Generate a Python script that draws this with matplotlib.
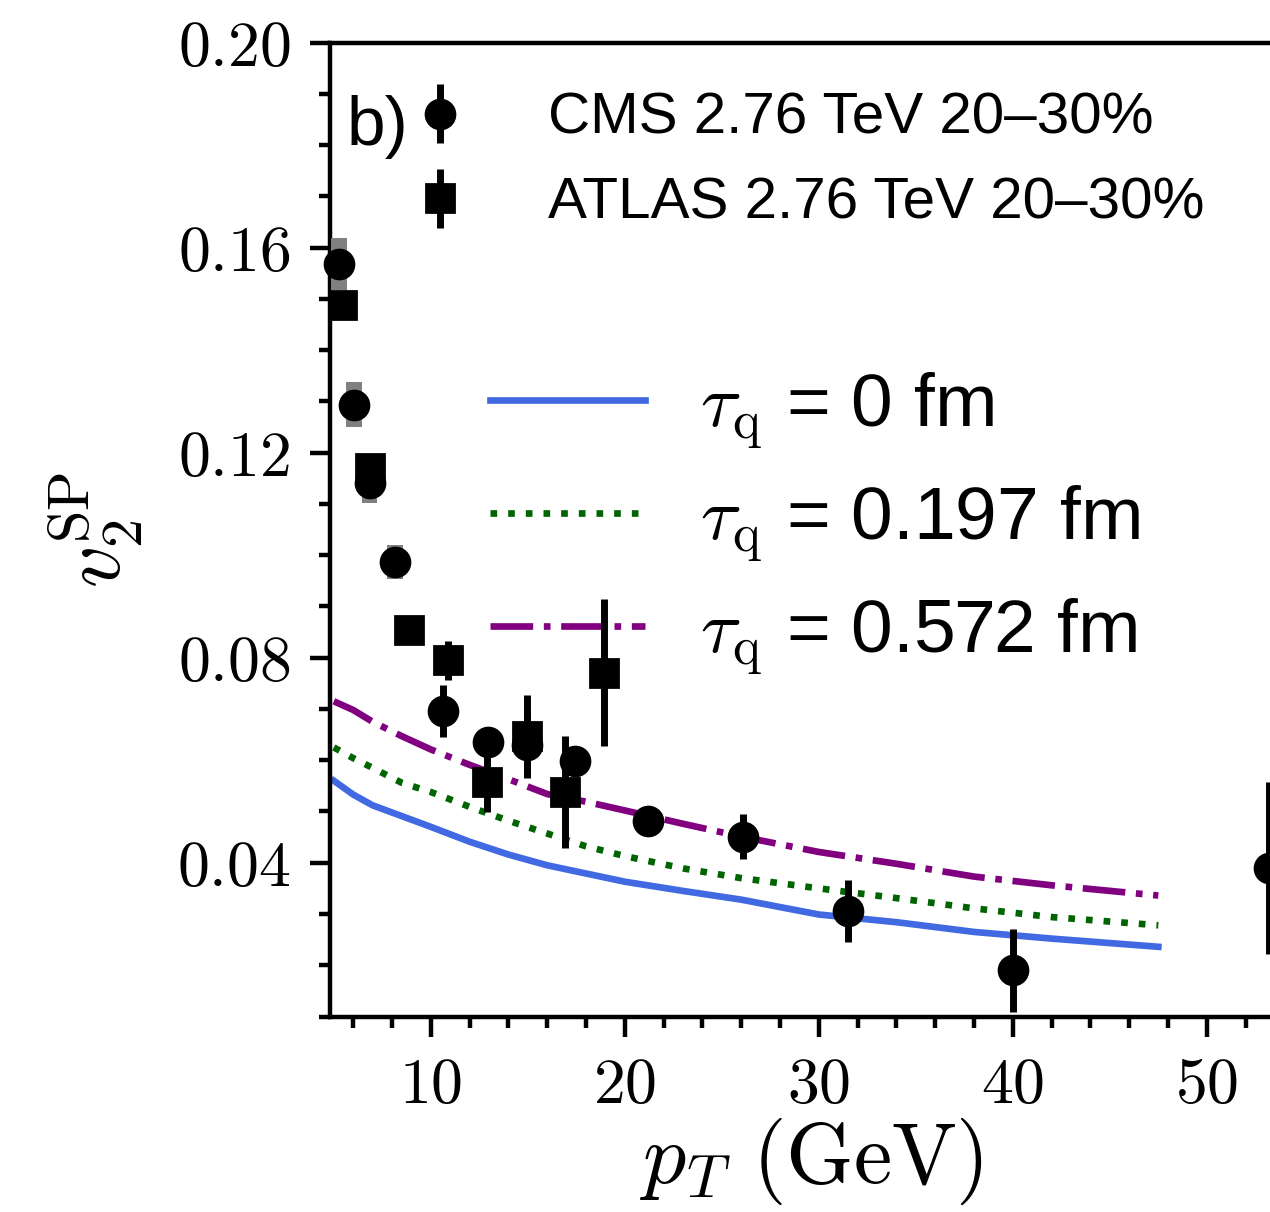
import numpy as np
import matplotlib
matplotlib.use("Agg")
import matplotlib.pyplot as plt  # noqa: E402
from matplotlib.ticker import FixedLocator, MultipleLocator  # noqa: E402

plt.rcParams["font.family"] = ["Liberation Sans", "DejaVu Sans"]
plt.rcParams["mathtext.fontset"] = "cm"

# ---------------------------------------------------------------------------
# Data
# ---------------------------------------------------------------------------
cms_pt = [5.28, 6.05, 6.84, 8.14, 10.65, 12.93, 14.94, 17.43, 21.22, 26.11, 31.50, 40.0, 53.2]
cms_v2 = [0.1568, 0.1294, 0.1141, 0.0986, 0.0696, 0.0636, 0.0630, 0.0599, 0.0481, 0.0451,
          0.0306, 0.0190, 0.0389]
cms_stat = [0.002, 0.002, 0.002, 0.002, 0.0051, 0.002, 0.0065, 0.002, 0.002, 0.0044,
            0.0061, 0.0081, 0.0168]
cms_sys = [0.0051, 0.0044, 0.0039, 0.0033, 0, 0, 0, 0, 0, 0, 0, 0, 0]

atlas_pt = [5.44, 6.84, 8.86, 10.90, 12.92, 14.94, 16.93, 18.94]
atlas_v2 = [0.1488, 0.1171, 0.0855, 0.0795, 0.0558, 0.0647, 0.0538, 0.0771]
atlas_err = [0.002, 0.002, 0.002, 0.0038, 0.0059, 0.0080, 0.0110, 0.0144]

theory_pt = [5.0, 6.0, 7.0, 8.5, 10.0, 12.0, 14.0, 16.0, 18.0, 20.0, 23.0, 26.0,
             30.0, 34.0, 38.0, 42.0, 47.5]
v2_tau0 = [0.0560, 0.0533, 0.0512, 0.0491, 0.0470, 0.0441, 0.0416, 0.0395, 0.0379,
           0.0363, 0.0345, 0.0328, 0.0299, 0.0284, 0.0265, 0.0252, 0.0236]
v2_tau197 = [0.0625, 0.0604, 0.0585, 0.0556, 0.0538, 0.0509, 0.0482, 0.0457, 0.0432,
             0.0413, 0.0389, 0.0370, 0.0350, 0.0331, 0.0311, 0.0294, 0.0278]
v2_tau572 = [0.0715, 0.0698, 0.0675, 0.0647, 0.0621, 0.0591, 0.0563, 0.0534, 0.0519,
             0.0502, 0.0476, 0.0451, 0.0421, 0.0398, 0.0373, 0.0356, 0.0336]

xtick_vals = [10, 20, 30, 40, 50]
xtick_labels = [r"$10$", r"$20$", r"$30$", r"$40$", r"$50$"]
ytick_vals = [0.04, 0.08, 0.12, 0.16, 0.20]
ytick_labels = [r"$0.04$", r"$0.08$", r"$0.12$", r"$0.16$", r"$0.20$"]

# ---------------------------------------------------------------------------
# Figure
# ---------------------------------------------------------------------------
fig = plt.figure(figsize=(6.35, 6.06), dpi=200)
ax = fig.add_axes([0.2598, 0.1613, 0.7821, 0.8035])
ax.set_xlim(4.8, 56)
ax.set_ylim(0.01, 0.20)

l0, = ax.plot(theory_pt, v2_tau0, color="royalblue", lw=2.4, zorder=2)
l1, = ax.plot(theory_pt, v2_tau197, color="darkgreen", lw=2.4, ls=":", zorder=2)
l2, = ax.plot(theory_pt, v2_tau572, color="purple", lw=2.4, ls="-.", zorder=2)

# CMS systematic boxes
sys_pt = [p for p, s in zip(cms_pt, cms_sys) if s > 0]
sys_v2 = [v for v, s in zip(cms_v2, cms_sys) if s > 0]
sys_s = [s for s in cms_sys if s > 0]
ax.bar(sys_pt, [2 * s for s in sys_s], bottom=[v - s for v, s in zip(sys_v2, sys_s)],
       width=0.8, color="grey", lw=0, zorder=3)

cms = ax.errorbar(cms_pt, cms_v2, yerr=cms_stat, fmt="o", color="black", ms=10.4,
                  elinewidth=2.5, capsize=0, zorder=4, clip_on=False)
atlas = ax.errorbar(atlas_pt, atlas_v2, yerr=atlas_err, fmt="s", color="black", ms=10.4,
                    elinewidth=2.5, capsize=0, zorder=4)

leg1 = ax.legend([cms, atlas], ["CMS 2.76 TeV 20\u201330%", "ATLAS 2.76 TeV 20\u201330%"],
                 loc="upper left", bbox_to_anchor=(0.052, 0.9494), borderaxespad=0,
                 borderpad=0, frameon=False, fontsize=21, handlelength=2.0,
                 handletextpad=0.85, labelspacing=0.53)
leg1.set_zorder(2.5)
ax.add_artist(leg1)

leg2 = ax.legend([l0, l1, l2],
                 [r"$\tau_{\rm q}$ = 0 fm", r"$\tau_{\rm q}$ = 0.197 fm",
                  r"$\tau_{\rm q}$ = 0.572 fm"],
                 loc="upper left", bbox_to_anchor=(0.161, 0.6629), borderaxespad=0,
                 borderpad=0, frameon=False, fontsize=27, handlelength=2.07,
                 handletextpad=0.73, labelspacing=0.436)
leg2.set_zorder(2.5)

ax.text(0.0168, 0.895, "b)", transform=ax.transAxes, fontsize=25, va="baseline")

# Axes styling
ax.spines["right"].set_visible(False)
for sp in ax.spines.values():
    sp.set_linewidth(1.6)
ax.xaxis.set_major_locator(FixedLocator(xtick_vals))
ax.set_xticklabels(xtick_labels)
ax.xaxis.set_minor_locator(MultipleLocator(2))
ax.yaxis.set_major_locator(FixedLocator(ytick_vals))
ax.set_yticklabels(ytick_labels)
ax.yaxis.set_minor_locator(MultipleLocator(0.01))
ax.tick_params(which="both", direction="out", top=False, right=False, width=1.6,
               labelsize=23, pad=7)
ax.tick_params(which="major", length=7.2)
ax.tick_params(which="minor", length=3.8)

ax.set_xlabel(r"$p_T\ (\mathrm{GeV})$", fontsize=31)
ax.set_ylabel(r"$v_2^{\rm SP}$", fontsize=30)
ax.xaxis.set_label_coords(0.485, -0.102)
ax.yaxis.set_label_coords(-0.186, 0.5)

fig.savefig("out.png", dpi=200)
